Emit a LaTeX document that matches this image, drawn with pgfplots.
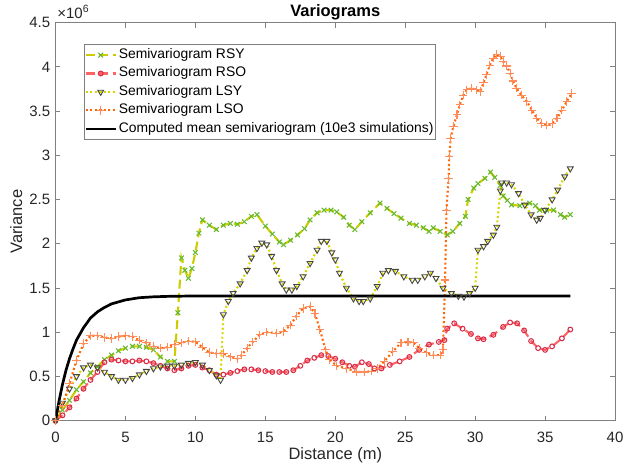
\documentclass[border=0pt]{standalone}
\usepackage{pgfplots}
\pgfplotsset{compat=1.18}
\usepackage{fontspec}
\setmainfont{Liberation Sans}
\definecolor{rsyline}{RGB}{204,204,0}
\definecolor{rsymark}{RGB}{100,185,50}
\definecolor{rsoline}{RGB}{255,100,100}
\definecolor{rsomark}{RGB}{215,45,75}
\definecolor{lsyline}{RGB}{215,215,0}
\definecolor{lsymark}{RGB}{70,70,70}
\definecolor{lsoline}{RGB}{255,100,0}
\definecolor{lsomark}{RGB}{255,140,90}
\definecolor{axgray}{RGB}{128,128,128}
\definecolor{txtgray}{RGB}{38,38,38}
\begin{document}
\begin{tikzpicture}
\begin{axis}[
  name=ax, at={(0,0)}, anchor=south west,
  width=373pt, height=265.3pt, scale only axis,
  xmin=0, xmax=40, ymin=0, ymax=4.5,
  xtick={0,5,10,15,20,25,30,35,40},
  ytick={0,0.5,1,1.5,2,2.5,3,3.5,4,4.5},
  tick align=inside, tick pos=both,
  major tick length=3.3pt,
  axis line style={axgray, line width=0.5pt},
  tick style={axgray, line width=0.5pt},
  tick label style={font=\fontsize{10}{12}\selectfont, text=txtgray},
  /pgf/number format/assume math mode=true,
  xticklabel style={yshift=-4pt},
  xlabel={Distance (m)}, ylabel={Variance}, title={Variograms},
  every axis title shift=0pt,
  xlabel style={at={(axis description cs:0.5,-0.0988)}, anchor=base, inner sep=0pt, font=\fontsize{11}{13}\selectfont, text=txtgray},
  ylabel style={at={(axis description cs:-0.0598,0.5)}, anchor=base, inner sep=0pt, font=\fontsize{11}{13}\selectfont, text=txtgray},
  title style={at={(axis description cs:0.5,1.0143)}, anchor=base, inner sep=0pt, yshift=0pt, font=\bfseries\fontsize{11}{13}\selectfont, text=black},
  legend style={at={(axis description cs:0.0509,0.9465)}, anchor=north west, draw=axgray, line width=0.5pt, fill=white, inner xsep=0pt, inner ysep=1pt, font=\fontsize{9.25}{11}\selectfont, text=black, row sep=0pt, nodes={text height=6.7pt, text depth=2.1pt, inner ysep=1.75pt, inner xsep=1.2pt}},
  legend cell align=left,
  legend image code/.code={\draw[mark repeat=2, mark phase=2, #1] plot coordinates {(0pt,0pt) (10pt,0pt) (20pt,0pt)};},
]
% RSY
\addplot[color=rsyline, line width=1.4pt, dash pattern=on 6pt off 3pt, mark=x, mark size=2.2pt, mark options={draw=rsymark, solid, line width=0.7pt}] coordinates {
(0,0) (0.5,0.12) (1,0.23) (1.5,0.35) (2,0.44) (2.5,0.54) (3,0.61) (3.5,0.69) (4,0.74) (4.5,0.79) (5,0.82) (5.5,0.84) (6,0.84) (6.5,0.83) (7,0.80) (7.5,0.72) (8,0.67) (8.5,0.67)
(8.75,1.22) (9.0,1.84) (9.25,1.70) (9.5,1.61) (9.75,1.72) (10.0,1.90) (10.25,2.12) (10.5,2.27) (11,2.21) (11.5,2.16) (12,2.21) (12.5,2.23) (13,2.22) (13.5,2.25) (14,2.31) (14.4,2.33)
(15,2.20) (15.5,2.11) (16,2.02) (16.3,1.99) (16.8,2.04) (17.3,2.10) (17.8,2.17) (18.2,2.27) (18.7,2.35) (19.2,2.38) (19.7,2.38) (20.1,2.36) (20.6,2.30) (21.0,2.21) (21.4,2.16)
(21.9,2.25) (22.5,2.35) (23.2,2.46) (23.7,2.40) (24.2,2.34) (24.7,2.29) (25.3,2.23) (25.8,2.21) (26.3,2.18) (26.7,2.14) (27.0,2.18) (27.5,2.14) (28.0,2.10) (28.4,2.14) (28.9,2.23)
(29.3,2.31) (29.5,2.50) (29.9,2.63) (30.2,2.68) (30.7,2.74) (31.1,2.81) (31.4,2.75) (31.8,2.66) (32.0,2.54) (32.3,2.49) (32.6,2.44) (33.2,2.43) (33.9,2.46) (34.3,2.43) (34.6,2.38)
(35.1,2.38) (35.6,2.38) (36.1,2.33) (36.4,2.30) (36.8,2.33)
};
\addlegendentry{Semivariogram RSY}
% RSO
\addplot[color=rsoline, line width=1.4pt, dash pattern=on 6pt off 3pt, mark=o, mark size=1.6pt, mark options={draw=rsomark, solid, line width=0.7pt, fill=none}] coordinates {
(0,0) (0.5,0.06) (1,0.15) (1.5,0.25) (2,0.36) (2.5,0.46) (3,0.55) (3.5,0.66) (4,0.69) (4.5,0.68) (5,0.67) (5.5,0.67) (6,0.68) (6.5,0.67) (7,0.65) (7.5,0.62) (8,0.59) (8.5,0.57)
(9,0.59) (9.5,0.62) (10,0.63) (10.5,0.60) (11,0.57) (11.5,0.52) (12,0.52) (12.5,0.54) (13,0.56) (13.5,0.58) (14,0.58) (14.5,0.57) (15,0.56) (15.5,0.55) (16,0.55) (16.5,0.55)
(17,0.57) (17.5,0.62) (18,0.68) (18.5,0.71) (19,0.74) (19.5,0.73) (20,0.70) (20.5,0.66) (21,0.62) (21.4,0.61) (21.9,0.66) (22.4,0.64) (22.8,0.59) (23.3,0.59) (23.9,0.63)
(24.6,0.67) (25.3,0.72) (26,0.80) (26.7,0.86) (27.4,0.89) (27.8,0.91) (28.0,1.04) (28.5,1.10) (29.1,1.04) (29.7,0.98) (30.2,0.93) (30.6,0.92) (31.3,0.97) (32.0,1.06)
(32.5,1.11) (33.0,1.10) (33.5,1.02) (34.0,0.90) (34.5,0.82) (35.0,0.80) (35.5,0.84) (36.2,0.93) (36.8,1.03)
};
\addlegendentry{Semivariogram RSO}
% LSY
\addplot[color=lsyline, line width=1.4pt, dash pattern=on 1.3pt off 1.7pt, mark=triangle, mark size=2.3pt, mark options={draw=lsymark, solid, rotate=180, line width=0.6pt}] coordinates {
(0,0) (0.5,0.20) (1,0.36) (1.5,0.50) (2,0.60) (2.5,0.63) (3,0.60) (3.5,0.55) (4,0.50) (4.5,0.46) (5,0.46) (5.5,0.48) (6,0.52) (6.5,0.56) (7,0.59) (7.5,0.61) (8,0.62) (8.5,0.62)
(9,0.63) (9.5,0.65) (10,0.66) (10.5,0.63) (11,0.57) (11.5,0.51) (11.8,0.46) (12.0,1.20) (12.35,1.35) (12.7,1.44) (13.2,1.55) (13.7,1.70) (14.0,1.84) (14.4,1.95) (14.75,2.01)
(15.1,1.99) (15.45,1.86) (15.8,1.70) (16.2,1.55) (16.5,1.48) (16.9,1.48) (17.25,1.52) (17.7,1.63) (18.2,1.78) (18.7,1.93) (19.0,2.03) (19.4,2.03) (19.75,1.90) (20.0,1.82)
(20.3,1.67) (20.8,1.50) (21.3,1.38) (21.7,1.35) (22.0,1.35) (22.5,1.38) (23.0,1.52) (23.4,1.67) (23.8,1.70) (24.3,1.69) (24.9,1.63) (25.5,1.59) (25.9,1.59) (26.4,1.63)
(26.8,1.67) (27.2,1.61) (27.7,1.50) (28.3,1.44) (28.8,1.41) (29.2,1.40) (29.6,1.44) (30.0,1.50) (30.2,1.93) (30.6,1.97) (30.9,2.03) (31.3,2.10) (31.55,2.19) (31.8,2.60)
(31.9,2.69) (32.25,2.69) (32.6,2.67) (33.1,2.57) (33.55,2.44) (34.0,2.33) (34.4,2.27) (34.65,2.29) (35.0,2.38) (35.5,2.50) (35.9,2.61) (36.4,2.76) (36.8,2.85)
};
\addlegendentry{Semivariogram LSY}
% LSO
\addplot[color=lsoline, line width=1.4pt, dash pattern=on 1.3pt off 1.7pt, mark=+, mark size=2.8pt, mark options={draw=lsomark, solid, line width=0.7pt}] coordinates {
(0,0) (0.5,0.17) (1,0.42) (1.5,0.68) (2,0.87) (2.5,0.96) (3,0.96) (3.5,0.94) (4,0.93) (4.5,0.95) (5,0.96) (5.5,0.95) (6,0.91) (6.5,0.88) (7,0.84) (7.5,0.82) (8,0.83) (8.5,0.86)
(9,0.88) (9.5,0.90) (10,0.89) (10.5,0.83) (11,0.77) (11.5,0.76) (12,0.76) (12.5,0.72) (13,0.70) (13.3,0.74) (13.7,0.82) (14.1,0.89) (14.6,0.97) (15.1,1.00) (15.8,0.99)
(16.3,1.01) (16.8,1.08) (17.2,1.18) (17.7,1.27) (18.2,1.29) (18.55,1.21) (18.9,1.03) (19.3,0.80) (19.6,0.69) (20.1,0.62) (20.8,0.59) (21.5,0.55) (22.1,0.55) (22.6,0.56)
(23.0,0.59) (23.5,0.67) (24.1,0.78) (24.7,0.88) (25.2,0.89) (25.6,0.88) (26.0,0.82) (26.5,0.77) (27.0,0.74) (27.5,0.74) (27.7,0.80) (27.85,1.59) (27.95,2.38) (28.1,2.74)
(28.15,2.99) (28.25,3.19) (28.45,3.33) (28.7,3.46) (28.9,3.57) (29.15,3.68) (29.4,3.74) (29.75,3.76) (30.1,3.74) (30.35,3.72) (30.6,3.82) (30.8,3.91) (31.05,4.02) (31.3,4.10)
(31.55,4.14) (31.8,4.12) (32.0,4.06) (32.25,4.01) (32.5,3.93) (32.7,3.84) (32.95,3.76) (33.3,3.68) (33.7,3.61) (34.05,3.51) (34.4,3.42) (34.75,3.36) (35.1,3.34) (35.5,3.36)
(35.85,3.42) (36.2,3.51) (36.55,3.61) (36.9,3.70)
};
\addlegendentry{Semivariogram LSO}
% mean
\addplot[black, line width=1.8pt, no markers] coordinates {
(0,0) (0.25,0.22) (0.5,0.41) (0.75,0.57) (1,0.70) (1.25,0.81) (1.5,0.91) (2,1.05) (2.5,1.16) (3,1.23) (3.5,1.28) (4,1.32) (5,1.365) (6,1.39) (7,1.40) (8,1.405) (10,1.41)
(15,1.41) (20,1.41) (25,1.41) (30,1.41) (36.8,1.41)
};
\addlegendentry{Computed mean semivariogram (10e3 simulations)}
\end{axis}
\node[anchor=base west, inner sep=0pt, font=\fontsize{10}{12}\selectfont, text=txtgray] at ([xshift=1pt, yshift=3.1pt]ax.north west) {×10\textsuperscript{6}};
\pgfresetboundingbox
\path[use as bounding box] (-37pt,-33.5pt) rectangle (378.3pt,280.4pt);
\end{tikzpicture}
\end{document}
